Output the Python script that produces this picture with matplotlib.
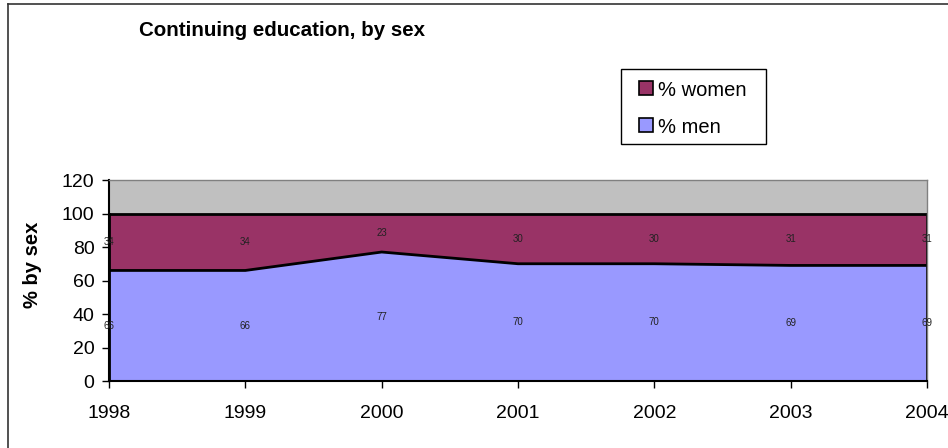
import matplotlib
matplotlib.use('Agg')
import matplotlib.pyplot as plt
from matplotlib.lines import Line2D
from matplotlib.patches import Rectangle

plt.rcParams['font.family'] = ['Liberation Sans', 'DejaVu Sans']

years = [1998, 1999, 2000, 2001, 2002, 2003, 2004]
men = [66, 66, 77, 70, 70, 69, 69]
women = [34, 34, 23, 30, 30, 31, 31]
legend_labels = ['% women', '% men']

MEN_COLOR = '#9999FF'
WOMEN_COLOR = '#993366'
BACK_COLOR = '#C0C0C0'

W, H = 948, 448
fig = plt.figure(figsize=(W / 100, H / 100), dpi=100)
fig.patch.set_facecolor('white')

# chart frame: only its top and left edges fall inside the picture
fig.lines.append(Line2D([8 / W, 8 / W], [0, 1 - 4 / H], transform=fig.transFigure,
                        color='#333333', linewidth=1.2))
fig.lines.append(Line2D([8 / W, 1], [1 - 4 / H, 1 - 4 / H], transform=fig.transFigure,
                        color='#333333', linewidth=1.2))

ax = fig.add_axes([109 / W, 1 - 381 / H, 818 / W, 201 / H])
ax.set_facecolor(BACK_COLOR)

top = [m + w for m, w in zip(men, women)]
ax.fill_between(years, 0, men, color=MEN_COLOR, linewidth=0)
ax.fill_between(years, men, top, color=WOMEN_COLOR, linewidth=0)
ax.plot(years, men, color='black', linewidth=2)
ax.plot(years, top, color='black', linewidth=2)
ax.plot([years[0], years[0]], [0, top[0]], color='black', linewidth=2)
ax.plot([years[-1], years[-1]], [0, top[-1]], color='black', linewidth=2)

for x, m, w in zip(years, men, women):
    ax.text(x, m / 2, str(m), ha='center', va='center', fontsize=7, color='#222222')
    ax.text(x, m + w / 2, str(w), ha='center', va='center', fontsize=7, color='#222222')

ax.set_xlim(years[0], years[-1])
ax.set_ylim(0, 120)
ax.set_yticks(range(0, 121, 20))
ax.set_xticks(years)
ax.tick_params(axis='both', labelsize=14, length=5, width=1, direction='out')
ax.tick_params(axis='y', pad=5.5)
ax.tick_params(axis='x', pad=12)
for s in ['top', 'right']:
    ax.spines[s].set_color('#808080')
    ax.spines[s].set_linewidth(1)
ax.spines['left'].set_linewidth(1.5)
ax.spines['bottom'].set_linewidth(1.5)

ax.set_ylabel('% by sex', fontsize=14.5, fontweight='bold')
ax.yaxis.set_label_coords((42 - 109) / 818, (381 - 265) / 201)

fig.text(139 / W, 1 - 30 / H, 'Continuing education, by sex', fontsize=14.8,
         fontweight='bold', ha='left', va='center')

# legend box, drawn by hand to match the spreadsheet layout
fig.patches.append(Rectangle((621 / W, 1 - 144 / H), 145 / W, 75 / H,
                             transform=fig.transFigure, facecolor='white',
                             edgecolor='black', linewidth=1))
for label, color, yc in zip(legend_labels, [WOMEN_COLOR, MEN_COLOR], [88, 125]):
    fig.patches.append(Rectangle((639 / W, 1 - (yc + 7) / H), 14 / W, 14 / H,
                                 transform=fig.transFigure, facecolor=color,
                                 edgecolor='black', linewidth=1.2))
    fig.text(658 / W, 1 - yc / H, label, fontsize=14.5, ha='left', va='center_baseline')

fig.savefig('out.png', dpi=100, facecolor='white')
